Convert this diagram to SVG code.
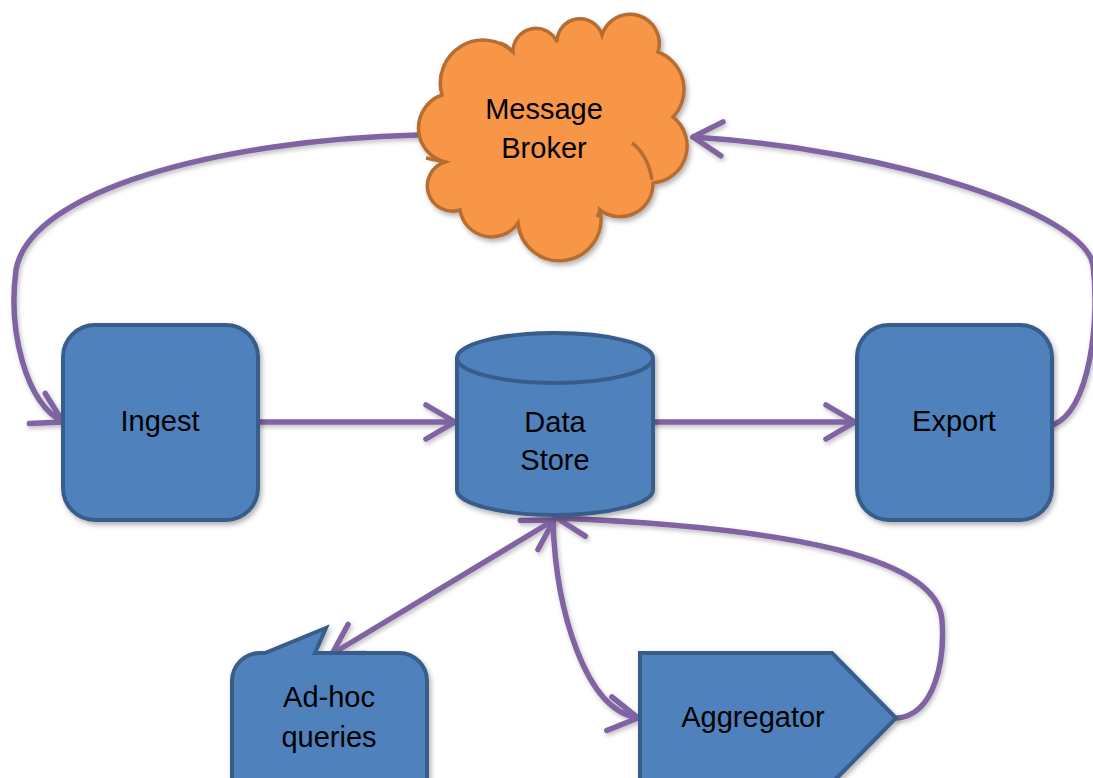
<svg xmlns="http://www.w3.org/2000/svg" width="1093" height="778" viewBox="0 0 1093 778">
  <defs>
    <style>
      .box { fill: #4F81BD; stroke: #385D8A; stroke-width: 4; filter: url(#sh); }
      .cloud { fill: #F79646; stroke: #B66D31; stroke-width: 3.5; filter: url(#sh); }
      .inner { fill: none; stroke: #B66D31; stroke-width: 3.5; }
      .conn { fill: none; stroke: #8064A2; stroke-width: 5.5; stroke-linecap: round; filter: url(#sh2); }
      .lbl { font-family: "Liberation Sans", Arial, sans-serif; font-size: 29px; fill: #000; text-anchor: middle; }
    </style>
    <filter id="sh" filterUnits="userSpaceOnUse" x="0" y="0" width="1093" height="778">
      <feDropShadow dx="2" dy="3" stdDeviation="2.5" flood-color="#000" flood-opacity="0.3"/>
    </filter>
    <filter id="sh2" filterUnits="userSpaceOnUse" x="0" y="0" width="1093" height="778">
      <feDropShadow dx="1.5" dy="2.5" stdDeviation="2" flood-color="#000" flood-opacity="0.25"/>
    </filter>
    <marker id="arr" markerUnits="userSpaceOnUse" markerWidth="50" markerHeight="50" viewBox="-40 -25 50 50" refX="0" refY="0" orient="auto-start-reverse">
      <path d="M-29,-17 L0,0 L-29,17" fill="none" stroke="#8064A2" stroke-width="5.5" stroke-linecap="round" stroke-linejoin="round"/>
    </marker>
  </defs>

  <g id="connectors">
    <path class="conn" d="M418,135 C220,140 30,190 16,270 C8,330 25,402 63,422" marker-end="url(#arr)"/>
    <path class="conn" d="M1053,425 C1090,410 1100,320 1093,265 C1085,215 900,150 693,137" marker-end="url(#arr)"/>
    <path class="conn" d="M259,422 L455,422" marker-end="url(#arr)"/>
    <path class="conn" d="M654,422 L855,422" marker-end="url(#arr)"/>
    <path class="conn" d="M554,520 L332,654" marker-start="url(#arr)" marker-end="url(#arr)"/>
    <path class="conn" d="M553,522 C556,610 585,710 638,718" marker-end="url(#arr)"/>
    <path class="conn" d="M897,718 C935,715 945,660 942,620 C938,560 800,528 557,518" marker-end="url(#arr)"/>
  </g>

  <g id="message-broker">
    <path class="cloud" d="M445,162 A35,35 0 0 1 442,95 A43,43 0 0 1 513,52 A23,23 0 0 1 557,42 A23,23 0 0 1 602,35 A29,29 0 0 1 658,52 A40,40 0 0 1 673,117 A37,37 0 0 1 653,183 A33,33 0 0 1 600,210 A41.6,41.6 0 1 1 518,223 A32,32 0 0 1 460,210 A25,25 0 0 1 445,162 Z"/>
    <path class="inner" d="M632,143 Q648,155 652,180"/>
    <path class="inner" d="M426,158 Q436,160 445,162"/>
    <path class="inner" d="M500,43 Q508,46 513,52"/>
    <path class="inner" d="M597,217 Q599,213 600,210"/>
    <text class="lbl" x="544" y="119">Message</text>
    <text class="lbl" x="544" y="158">Broker</text>
  </g>

  <g id="ingest">
    <rect class="box" x="63" y="325" width="195" height="195" rx="32"/>
    <text class="lbl" x="160" y="431">Ingest</text>
  </g>

  <g id="data-store">
    <path class="box" d="M457,358 A98,25 0 0 1 653,358 L653,490 A98,25 0 0 1 457,490 Z"/>
    <path fill="none" stroke="#385D8A" stroke-width="4" d="M457,358 A98,25 0 0 0 653,358"/>
    <text class="lbl" x="555" y="432">Data</text>
    <text class="lbl" x="555" y="470">Store</text>
  </g>

  <g id="export">
    <rect class="box" x="857" y="325" width="195" height="195" rx="32"/>
    <text class="lbl" x="954" y="431">Export</text>
  </g>

  <g id="ad-hoc-queries">
    <path class="box" d="M260,653 L265,653 L326,628 L315,653 L399,653 A28,28 0 0 1 427,681 L427,800 L232,800 L232,681 A28,28 0 0 1 260,653 Z"/>
    <text class="lbl" x="329" y="707">Ad-hoc</text>
    <text class="lbl" x="329" y="747">queries</text>
  </g>

  <g id="aggregator">
    <path class="box" d="M640,653 L832,653 L896,718 L832,783 L640,783 Z"/>
    <text class="lbl" x="753" y="727">Aggregator</text>
  </g>
</svg>
